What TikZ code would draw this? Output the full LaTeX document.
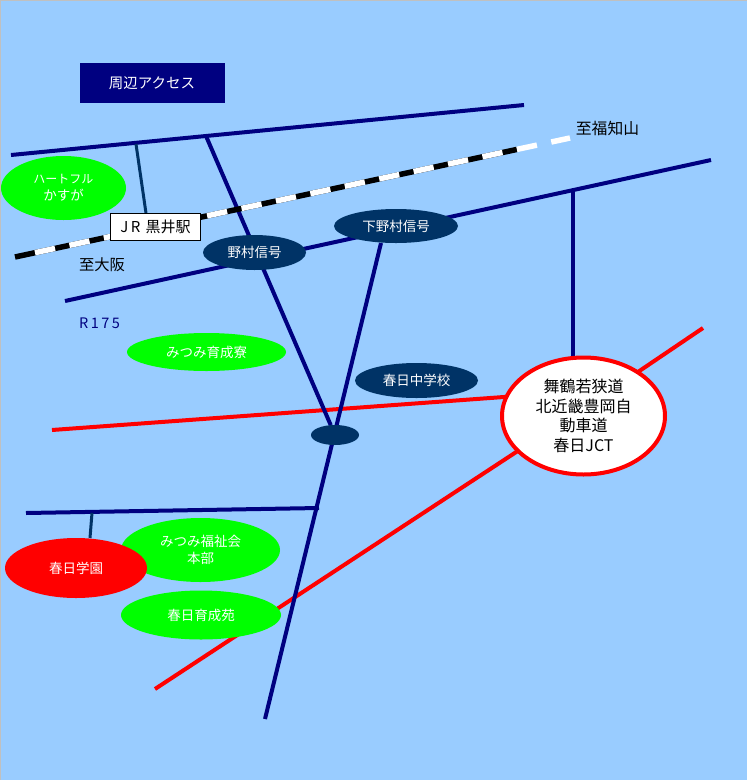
\documentclass[tikz,border=0pt]{standalone}
\usepackage{fontspec}
\setmainfont{Noto Sans CJK JP}
\usetikzlibrary{shapes.geometric,backgrounds}
\definecolor{sky}{HTML}{99CCFF}
\definecolor{roadnavy}{HTML}{000080}
\definecolor{signalblue}{HTML}{003366}
\definecolor{edgegray}{HTML}{C0C0C0}
\tikzset{
  x=1pt,y=-1pt,
  txt/.style={font=\fontsize{13.5}{17}\selectfont,align=center,inner sep=0pt},
  spot/.style={ellipse,inner sep=0pt,outer sep=0pt,txt,text=white,minimum width=#1},
  greenspot/.style={spot=#1,fill=green},
  signal/.style={spot=#1,fill=signalblue},
  road/.style={draw=roadnavy,line width=4pt},
  branch/.style={draw=signalblue,line width=3pt},
  highway/.style={draw=red,line width=4pt},
}
\begin{document}
\begin{tikzpicture}
\useasboundingbox (0,0) rectangle (747,780);
% nodes
\node[fill=roadnavy,text=white,txt,font=\fontsize{14.5}{17}\selectfont,minimum width=145pt,minimum height=40pt] (title) at (152.5,83) {\kern-1pt周辺アクセス};
\node[greenspot=125pt,minimum height=64pt] (heart) at (63.5,188) {\fontsize{12}{17}\selectfont ハートフル\\\fontsize{13.5}{17}\selectfont かすが};
\node[draw=black,line width=0.8pt,fill=white,txt,font=\fontsize{15}{17}\selectfont,minimum width=90pt,minimum height=27pt] (jr) at (155.5,227) {J\,R\,\,黒井駅};
\node[signal=103pt,minimum height=35pt] (nomura) at (254.5,252.5) {野村信号};
\node[signal=124pt,minimum height=34pt] (shimo) at (396,226) {下野村信号};
\node[greenspot=159pt,minimum height=38pt] (ryo) at (206.5,352) {みつみ育成寮};
\node[signal=123pt,minimum height=35pt] (chu) at (416.5,380.5) {春日中学校};
\node[spot=48pt,fill=signalblue,minimum height=20pt] (cross) at (335,435) {};
\node[draw=red,line width=4pt,fill=white,ellipse,inner sep=0pt,outer sep=0pt,align=center,font=\fontsize{16}{19.6}\selectfont,minimum width=163pt,minimum height=117pt] (jct) at (583.5,416) {舞鶴若狭道\\北近畿豊岡自\\動車道\\春日JCT};
\node[greenspot=159pt,minimum height=64pt] (fuku) at (200.5,550) {みつみ福祉会\\本部};
\node[spot=142pt,fill=red,minimum height=60pt] (gakuen) at (76,568) {春日学園};
\node[greenspot=160pt,minimum height=49pt] (iku) at (201,615) {春日育成苑};
\node[txt,font=\fontsize{15.3}{17}\selectfont] (osaka) at (102,265) {至大阪};
\node[txt,font=\fontsize{15.8}{17}\selectfont] (fukuchi) at (607.5,128) {至福知山};
\node[txt,text=roadnavy,font=\fontsize{14.5}{17}\selectfont] (r175) at (99.5,323.5) {R\,1\,7\,5};
% free ends
\coordinate (topW) at (11,155);
\coordinate (topE) at (524,105);
\coordinate (topA) at (136,144);
\coordinate (topB) at (206,136);
\coordinate (rW) at (65,301);
\coordinate (rE) at (711,160);
\coordinate (rJ) at (573,192);
\coordinate (redW) at (52,430);
\coordinate (redSW) at (155,689);
\coordinate (redNE) at (703,328);
\coordinate (south) at (265,719);
\coordinate (lowW) at (26,513);
\coordinate (lowE) at (319,508);
\coordinate (lowA) at (92,513);
\coordinate (railW) at (15,257);
\coordinate (railB) at (517,149.4);
\coordinate (railS) at (35,252.7);
\coordinate (railE) at (570,138);
\begin{scope}[on background layer]
  \fill[sky] (0,0) rectangle (747,780);
  \draw[edgegray,line width=1.5pt] (0.5,780) -- (0.5,0.5) -- (747,0.5);
  \draw[highway] (redW) -- (jct.166);
  \draw[highway] (redSW) -- (jct.208);
  \draw[highway] (jct.39) -- (redNE);
  \draw[road] (topW) -- (topE);
  \draw[road] (rW) -- (rE);
  \draw[road] (rJ) -- (rJ |- jct.north);
  \draw[road] (topB) -- (cross);
  \draw[road] (shimo.south) ++(-15,0) -- (south);
  \draw[road] (lowW) -- (lowE);
  \draw[branch] (topA) -- (jr.north -| 146,0);
  \draw[branch] (lowA) -- (gakuen.north -| 90,0);
  \draw[line width=5.5pt,black] (railW) -- (railB);
  \draw[line width=5.5pt,white,dash pattern=on 20.5pt off 14.7pt] (railS) -- (railE);
\end{scope}
\end{tikzpicture}
\end{document}
